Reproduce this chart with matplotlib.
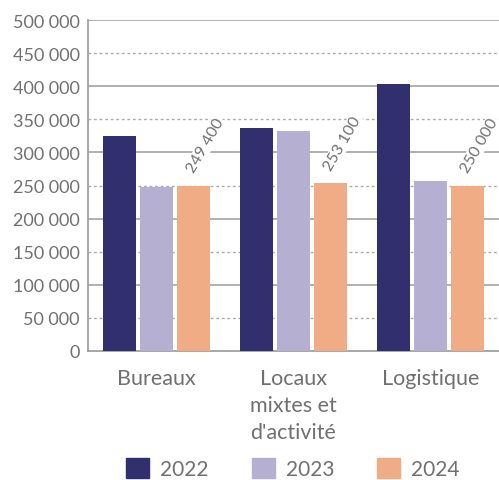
import matplotlib.pyplot as plt
import numpy as np
from matplotlib.patches import Patch
from matplotlib.ticker import FuncFormatter

plt.rcParams['font.family'] = ['Lato', 'DejaVu Sans']

categories = ["Bureaux", "Locaux\nmixtes et\nd'activité", "Logistique"]
years = ["2022", "2023", "2024"]
v2022 = [325000, 337000, 403000]
v2023 = [248000, 332000, 257000]
v2024 = [249400, 253100, 250000]
labels_2024 = ["249\u202f400", "253\u202f100", "250\u202f000"]
colors = ["#322f6f", "#b5b0d2", "#f0ac84"]
grey = "#707070"

fig = plt.figure(figsize=(4.99, 4.81), dpi=100)
ax = fig.add_axes([88/499, 129/481, 411/499, 331/481])

x = np.arange(len(categories))
w = 33/137
step = 37/137
series = [v2022, v2023, v2024]
for i, vals in enumerate(series):
    ax.bar(x + (i - 1)*step, vals, width=w, color=colors[i], zorder=3)

# value labels on 2024 bars
for xi, v, lab in zip(x, v2024, labels_2024):
    ax.annotate(lab, (xi + step, v), xytext=(8.5, 8), textcoords='offset points',
                rotation=60, ha='center', va='bottom', fontsize=11.5, color=grey,
                bbox=dict(boxstyle='square,pad=0.05', fc='white', ec='none'),
                zorder=4, annotation_clip=False)

ax.set_xlim(-0.5, 2.5)
ax.set_ylim(0, 500000)
ax.set_yticks(np.arange(0, 500001, 50000))
ax.yaxis.set_major_formatter(FuncFormatter(lambda v, p: f"{int(v):,}".replace(",", "\u202f")))
for yv in np.arange(50000, 500001, 50000):
    if yv % 100000 == 0:
        ax.axhline(yv, color="#aaaaaa", lw=1.3, zorder=1)
    else:
        ax.axhline(yv, color="#aaaaaa", lw=1.0, ls=(0, (2, 2)), zorder=1)

ax.set_xticks(x)
ax.set_xticklabels(categories, fontsize=15.5, color=grey, linespacing=1.45, va='top')
ax.tick_params(axis='x', length=0, pad=12)
ax.tick_params(axis='y', length=0, pad=6, labelsize=13, labelcolor=grey)

for s in ["top", "right"]:
    ax.spines[s].set_visible(False)
for s in ["left", "bottom"]:
    ax.spines[s].set_color("#a0a0a0")
    ax.spines[s].set_linewidth(1.3)

handles = [Patch(color=c) for c in colors]
fig.legend(handles, years, loc='center', bbox_to_anchor=(0.587, 0.024), ncol=3,
           frameon=False, fontsize=15, labelcolor=grey, handlelength=1.1,
           handleheight=1.1, handletextpad=0.53, columnspacing=2.06, borderpad=0)

fig.savefig("out.png", dpi=100)
